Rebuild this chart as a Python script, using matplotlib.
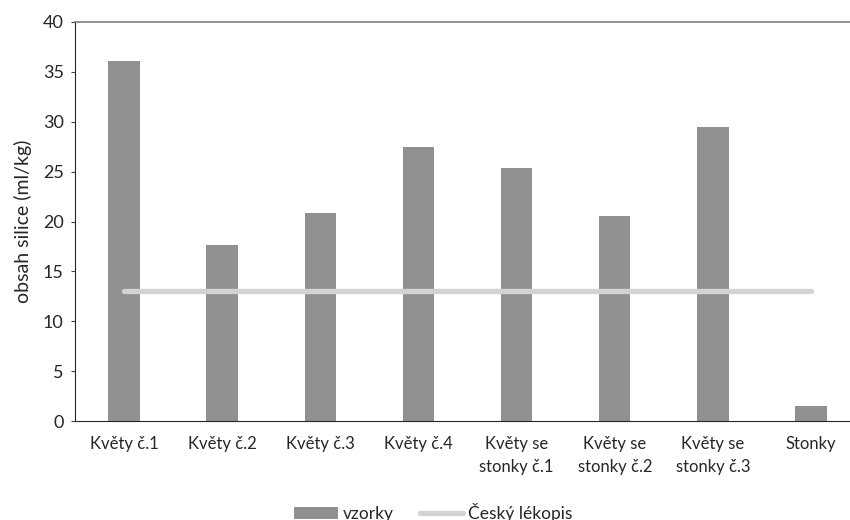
import matplotlib.pyplot as plt
from matplotlib.patches import Patch
from matplotlib.lines import Line2D

plt.rcParams['font.family'] = ['Lato', 'DejaVu Sans']

kategorie = ['Květy č.1', 'Květy č.2', 'Květy č.3', 'Květy č.4',
             'Květy se\nstonky č.1', 'Květy se\nstonky č.2', 'Květy se\nstonky č.3', 'Stonky']
vzorky = [36.1, 17.6, 20.9, 27.5, 25.4, 20.6, 29.5, 1.5]
lekopis = [13, 13, 13, 13, 13, 13, 13, 13]

fig = plt.figure(figsize=(8.5, 5.2), dpi=100)
ax = fig.add_axes([0.088, 0.19, 0.924, 0.768])

x = range(len(kategorie))
ax.bar(x, vzorky, width=0.32, color='#919191', zorder=2)
ax.plot(x, lekopis, color='#d3d3d3', linewidth=3.8, solid_capstyle='round', zorder=3)

ax.set_xlim(-0.5, len(kategorie) - 0.5)
ax.set_ylim(0, 40)
ax.set_yticks(range(0, 41, 5))
ax.set_xticks(list(x))
ax.set_xticklabels(kategorie, fontsize=12, color='#262626', linespacing=1.5)
ax.tick_params(axis='x', length=0, pad=11)
ax.tick_params(axis='y', length=3, width=0.8, color='#404040', labelsize=13, labelcolor='#262626', pad=5)
ax.set_ylabel('obsah silice (ml/kg)', fontsize=14, color='#262626', labelpad=8)

ax.spines['right'].set_visible(False)
ax.spines['top'].set_color('#7f7f7f')
ax.spines['top'].set_linewidth(1.2)
ax.spines['left'].set_color('#262626')
ax.spines['bottom'].set_color('#262626')

handles = [Patch(facecolor='#919191', edgecolor='none'),
           Line2D([0], [0], color='#d3d3d3', linewidth=3.8, solid_capstyle='round')]
fig.legend(handles, ['vzorky', 'Český lékopis'], loc='center', bbox_to_anchor=(0.51, 0.015),
           ncol=2, frameon=False, fontsize=12.5, handlelength=2.5, handletextpad=0.3,
           columnspacing=1.5, labelcolor='#262626')

fig.savefig('out.png', dpi=100)
